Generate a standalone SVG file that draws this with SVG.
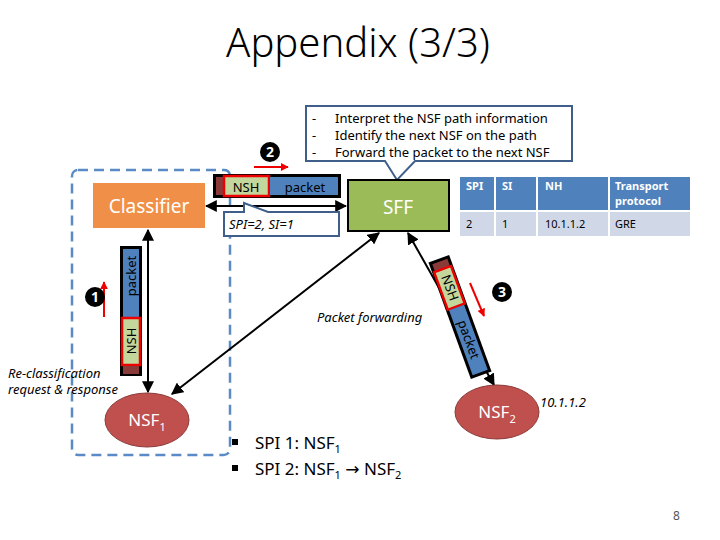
<svg xmlns="http://www.w3.org/2000/svg" width="720" height="540" viewBox="0 0 720 540">
<style>
text{font-family:"Noto Sans","DejaVu Sans",sans-serif}
.k{stroke:#000;stroke-width:2;fill:none}
.it{font-style:italic;font-size:13px}
.th{fill:#fff;font-size:11px;font-weight:bold}
.td{font-size:11px}
.num{fill:#fff;font-weight:bold;font-size:14px}
</style>
<defs>
<marker id="a" viewBox="0 0 10 10" refX="9" refY="5" markerWidth="6" markerHeight="6" orient="auto-start-reverse"><path d="M0,0L10,5L0,10z" fill="#000"/></marker>
<marker id="r" viewBox="0 0 10 10" refX="9" refY="5" markerWidth="4" markerHeight="4" orient="auto"><path d="M0,0L10,5L0,10z" fill="#e00"/></marker>
</defs>
<rect width="720" height="540" fill="#fff"/>
<text x="358" y="57" font-size="40" text-anchor="middle" font-weight="300">Appendix (3/3)</text>
<rect x="72" y="170" width="158" height="285" rx="6" fill="none" stroke="#5b8bc5" stroke-width="2.5" stroke-dasharray="10,6"/>
<g id="connectors">
<line x1="206" y1="206" x2="346" y2="206" class="k" marker-start="url(#a)" marker-end="url(#a)"/>
<line x1="148" y1="230" x2="148" y2="392" class="k" marker-start="url(#a)" marker-end="url(#a)"/>
<line x1="379" y1="233" x2="172" y2="394" class="k" marker-start="url(#a)" marker-end="url(#a)"/>
<line x1="408" y1="233" x2="494" y2="385" class="k" marker-start="url(#a)" marker-end="url(#a)"/>
<line x1="254" y1="167" x2="288" y2="167" stroke="#e00" stroke-width="2" marker-end="url(#r)"/>
<line x1="104" y1="317" x2="104" y2="282" stroke="#e00" stroke-width="2" marker-end="url(#r)"/>
<line x1="470" y1="283" x2="484" y2="316" stroke="#e00" stroke-width="2" marker-end="url(#r)"/>
</g>
<g id="callout">
<path d="M306,106H572V161H415L397,180L385,161H306Z" fill="#fff" stroke="#3f5f8a" stroke-width="2"/>
<text x="312" y="123" font-size="13">-</text><text x="312" y="140" font-size="13">-</text><text x="312" y="157" font-size="13">-</text>
<text x="335" y="123" font-size="13">Interpret the NSF path information</text>
<text x="335" y="140" font-size="13">Identify the next NSF on the path</text>
<text x="335" y="157" font-size="13">Forward the packet to the next NSF</text>
</g>
<g id="classifier"><rect x="93" y="183" width="112" height="45" fill="#f08f47"/><text x="149" y="213" font-size="19" fill="#fff" text-anchor="middle">Classifier</text></g>
<g id="sff"><rect x="348" y="180" width="101" height="51" fill="#9bbb59" stroke="#000" stroke-width="2"/><text x="398" y="214" font-size="19" fill="#fff" text-anchor="middle">SFF</text></g>
<g id="pkt2">
<rect x="213" y="174" width="128" height="24" fill="#000"/>
<rect x="216" y="177" width="8" height="18" fill="#8b3a3a"/>
<rect x="224" y="176" width="45" height="20" fill="#c3d69b" stroke="#e00" stroke-width="2.5"/>
<rect x="270" y="177" width="68" height="18" fill="#4f81bd"/>
<text x="246" y="192" font-size="13" text-anchor="middle">NSH</text>
<text x="305" y="192" font-size="13" text-anchor="middle">packet</text>
</g>
<g id="spilabel"><path d="M224,212H244V203L268,212H339V236H224Z" fill="#fff" stroke="#3f5f8a" stroke-width="2"/><text x="229" y="229" class="it">SPI=2, SI=1</text></g>
<g id="step2"><circle cx="270" cy="152" r="10"/><text x="270" y="157" class="num" text-anchor="middle">2</text></g>
<g id="pkt1">
<rect x="120" y="246" width="22" height="130" fill="#000"/>
<rect x="123" y="249" width="16" height="70" fill="#4f81bd"/>
<rect x="122" y="318" width="18" height="47" fill="#c3d69b" stroke="#e00" stroke-width="2.5"/>
<rect x="123" y="366" width="16" height="8" fill="#8b3a3a"/>
<text transform="translate(136,276) rotate(-90)" font-size="13" text-anchor="middle">packet</text>
<text transform="translate(136,341) rotate(-90)" font-size="13" text-anchor="middle">NSH</text>
</g>
<g id="step1"><circle cx="95" cy="297" r="10"/><text x="95" y="302" class="num" text-anchor="middle">1</text></g>
<g id="pkt3" transform="translate(460,317) rotate(-20)">
<rect x="-11" y="-62" width="22" height="124" fill="#000"/>
<rect x="-8" y="-59" width="16" height="8" fill="#8b3a3a"/>
<rect x="-9" y="-51" width="18" height="40" fill="#c3d69b" stroke="#e00" stroke-width="2.5"/>
<rect x="-8" y="-10" width="16" height="69" fill="#4f81bd"/>
<text transform="translate(-4,-31) rotate(90)" font-size="13" text-anchor="middle">NSH</text>
<text transform="translate(-4,24) rotate(90)" font-size="13" text-anchor="middle">packet</text>
</g>
<g id="step3"><circle cx="502" cy="292" r="10"/><text x="502" y="297" class="num" text-anchor="middle">3</text></g>
<g id="nsf1"><ellipse cx="147" cy="420" rx="42" ry="27" fill="#c0504d" stroke="#8b3a3a"/><text x="147" y="426" font-size="17" fill="#fff" text-anchor="middle">NSF<tspan font-size="11" dy="5">1</tspan></text></g>
<g id="nsf2"><ellipse cx="497" cy="412" rx="42" ry="27" fill="#c0504d" stroke="#8b3a3a"/><text x="497" y="418" font-size="17" fill="#fff" text-anchor="middle">NSF<tspan font-size="11" dy="5">2</tspan></text></g>
<text x="317" y="322" class="it">Packet forwarding</text>
<text x="540" y="407" class="it">10.1.1.2</text>
<text x="8" y="378" class="it">Re-classification</text>
<text x="8" y="394" class="it">request &amp; response</text>
<g id="table">
<rect x="460" y="177" width="34" height="33" fill="#4f81bd"/><rect x="496" y="177" width="40" height="33" fill="#4f81bd"/><rect x="538" y="177" width="70" height="33" fill="#4f81bd"/><rect x="610" y="177" width="80" height="33" fill="#4f81bd"/>
<rect x="460" y="212" width="34" height="24" fill="#d0d8e8"/><rect x="496" y="212" width="40" height="24" fill="#d0d8e8"/><rect x="538" y="212" width="70" height="24" fill="#d0d8e8"/><rect x="610" y="212" width="80" height="24" fill="#d0d8e8"/>
<text x="466" y="190" class="th">SPI</text><text x="502" y="190" class="th">SI</text><text x="545" y="190" class="th">NH</text><text x="615" y="190" class="th">Transport</text><text x="615" y="205" class="th">protocol</text>
<text x="466" y="228" class="td">2</text><text x="502" y="228" class="td">1</text><text x="545" y="228" class="td">10.1.1.2</text><text x="615" y="228" class="td">GRE</text>
</g>
<g id="bullets" font-size="17">
<rect x="232" y="439" width="6" height="6"/><text x="255" y="449">SPI 1: NSF<tspan font-size="11" dy="4">1</tspan></text>
<rect x="232" y="465" width="6" height="6"/><text x="255" y="475">SPI 2: NSF<tspan font-size="11" dy="4">1</tspan><tspan dy="-4"> → NSF</tspan><tspan font-size="11" dy="4">2</tspan></text>
</g>
<text x="673" y="520" font-size="12" fill="#555">8</text>
</svg>
